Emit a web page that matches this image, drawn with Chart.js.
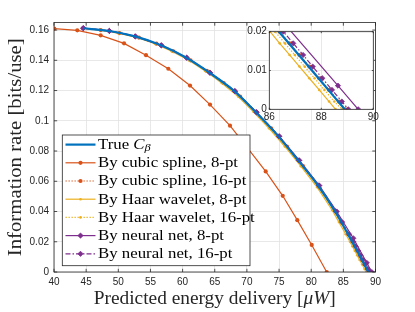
<!DOCTYPE html>
<html><head><meta charset="utf-8">
<script src="https://cdn.jsdelivr.net/npm/chart.js@4/dist/chart.umd.min.js"></script>
<style>
html,body{margin:0;padding:0;background:#fff;}
#wrap{position:relative;width:415px;height:312px;overflow:hidden;}
#main{position:absolute;left:0;top:0;}
#inset{position:absolute;left:235px;top:20px;}
</style></head><body>
<div id="wrap"><canvas id="main" width="415" height="312"></canvas><canvas id="inset" width="150" height="105"></canvas></div>
<script>
// ---------- tick labels ----------
const mainXTicks = [40, 45, 50, 55, 60, 65, 70, 75, 80, 85, 90];
const mainYTicks = [0, 0.02, 0.04, 0.06, 0.08, 0.1, 0.12, 0.14, 0.16];
const insetXTicks = [86, 88, 90];
const insetYTicks = [0, 0.01, 0.02];

// ---------- series names ----------
const seriesNames = ['True C_β', 'By cubic spline, 8-pt', 'By cubic spline, 16-pt',
  'By Haar wavelet, 8-pt', 'By Haar wavelet, 16-pt', 'By neural net, 8-pt', 'By neural net, 16-pt'];

// ---------- data ----------
const trueX = [44.5, 48.6, 52.62, 56.65, 60.58, 64.18, 68.05, 71.4, 74.9, 77.98, 81.06, 83.72, 86.37, 87.64, 88.9];
const trueY = [0.1612, 0.1594, 0.1558, 0.1499, 0.1417, 0.1318, 0.1196, 0.1056, 0.0897, 0.0738, 0.0572, 0.040, 0.020, 0.010, 0];

const spline8X = [40.05, 43.62, 47.26, 50.89, 54.31, 57.78, 61.15, 64.26, 67.37, 70.15, 72.92, 75.57, 77.84, 80.08, 82.41];
const spline8Y = [0.1609, 0.1598, 0.1565, 0.1512, 0.1434, 0.1344, 0.1233, 0.1107, 0.0968, 0.0818, 0.0665, 0.0504, 0.0343, 0.0179, 0];

const neural8X = [44.56, 48.6, 52.64, 56.69, 60.64, 64.26, 68.15, 71.52, 75.04, 78.15, 81.26, 83.97, 86.55, 88.64, 89.42];
const neural8Y = [0.1613, 0.1594, 0.1558, 0.1499, 0.1417, 0.1318, 0.1196, 0.1056, 0.0897, 0.0738, 0.0572, 0.040, 0.0223, 0.0061, 0];

const neural16X = [44.55, 48.62, 52.65, 56.69, 60.63, 64.24, 68.12, 71.48, 75.0, 78.08, 81.17, 83.85,
  84.81, 85.88, 86.54, 86.92, 87.3, 87.67, 88.04, 88.41, 88.79, 89.04];
const neural16Y = [0.1612, 0.1594, 0.1558, 0.1499, 0.1417, 0.1318, 0.1196, 0.1056, 0.0897, 0.0738, 0.0572, 0.040,
  0.033, 0.025, 0.020, 0.017, 0.014, 0.011, 0.008, 0.005, 0.002, 0];

// spline-16 / wavelet series sampled at these rates
const rateLevels = [0.1612, 0.1600, 0.1580, 0.1550, 0.1510, 0.1460, 0.1400, 0.1330, 0.1250, 0.1160, 0.1060, 0.0950, 0.0830,
  0.0700, 0.0560, 0.0410, 0.0330, 0.0250, 0.0200, 0.0170, 0.0140, 0.0110, 0.0080, 0.0050, 0.0020, 0];
const spline16X = [44.5, 47.25, 50.18, 53.2, 55.93, 58.55, 61.23, 63.77, 66.37, 68.94, 71.33, 73.76, 76.23,
  78.72, 81.28, 83.6, 84.68, 85.74, 86.4, 86.78, 87.16, 87.54, 87.92, 88.3, 88.68, 88.93];
const haar8X = [44.45, 47.1, 50.0, 52.98, 55.7, 58.3, 60.97, 63.5, 66.08, 68.64, 71.02, 73.44, 75.9,
  78.38, 80.93, 83.24, 84.31, 85.37, 86.03, 86.4, 86.78, 87.16, 87.54, 87.92, 88.3, 88.55];
const haar16X = [44.5, 47.15, 50.08, 53.07, 55.78, 58.4, 61.07, 63.6, 66.19, 68.76, 71.15, 73.58, 76.05,
  78.54, 81.1, 83.42, 84.5, 85.55, 86.22, 86.6, 86.98, 87.36, 87.74, 88.12, 88.5, 88.8];

// ---------- styles ----------
const C_BLUE = '#0072BD', C_ORANGE = '#D95319', C_YELLOW = '#EDB120', C_PURPLE = '#7E2F8E';
const styles = [
  {color: C_BLUE, width: 2.2, dash: [], point: false, radius: 0, smooth: true, order: 0},
  {color: C_ORANGE, width: 1.2, dash: [], point: 'circle', radius: 2.1, smooth: false, order: 6},
  {color: C_ORANGE, width: 1.2, dash: [1.3, 1.7], point: 'circle', radius: 2.1, smooth: true, order: 5},
  {color: C_YELLOW, width: 1.2, dash: [], point: 'circle', radius: 1.3, smooth: false, order: 4},
  {color: C_YELLOW, width: 1.2, dash: [1.3, 1.7], point: 'circle', radius: 1.3, smooth: true, order: 3},
  {color: C_PURPLE, width: 1.2, dash: [], point: 'rectRot', radius: 2.6, smooth: false, order: 2},
  {color: C_PURPLE, width: 1.2, dash: [5, 2, 1.5, 2], point: 'rectRot', radius: 2.6, smooth: true, order: 1}
];
const seriesXY = [
  [trueX, trueY], [spline8X, spline8Y], [spline16X, rateLevels], [haar8X, rateLevels],
  [haar16X, rateLevels], [neural8X, neural8Y], [neural16X, neural16Y]
];

function makeDatasets() {
  return seriesXY.map(([xs, ys], i) => {
    const s = styles[i];
    return {
      label: seriesNames[i],
      data: xs.map((x, k) => ({x: x, y: ys[k]})),
      showLine: true, fill: false,
      borderColor: s.color, backgroundColor: s.color,
      borderWidth: s.width, borderDash: s.dash,
      pointStyle: s.point || 'circle', pointRadius: s.radius, pointHoverRadius: s.radius,
      pointBorderWidth: s.point === 'rectRot' ? 0.8 : 0, pointBorderColor: s.color, pointBackgroundColor: s.color,
      cubicInterpolationMode: s.smooth ? 'monotone' : 'default', tension: 0,
      order: s.order
    };
  });
}

const FRAME = '#262626';
const SERIF = '"Liberation Serif", "Times New Roman", serif';
const SANS = '"Liberation Sans", Arial, sans-serif';

function drawParts(ctx, parts, x, y, sx) {
  ctx.save();
  ctx.translate(x, y);
  ctx.scale(sx, 1);
  let cx = 0;
  parts.forEach(p => {
    ctx.font = p.f;
    ctx.fillText(p.t, cx, p.dy || 0);
    cx += ctx.measureText(p.t).width;
  });
  ctx.restore();
}
function partsWidth(ctx, parts) {
  let w = 0;
  ctx.save();
  parts.forEach(p => { ctx.font = p.f; w += ctx.measureText(p.t).width; });
  ctx.restore();
  return w;
}

function framePlugin(tickLen) {
  return {
    id: 'frame',
    beforeDraw(chart, args, opts) {
      if (opts.white) {
        const a = chart.chartArea, ctx = chart.ctx;
        ctx.save(); ctx.fillStyle = '#fff';
        ctx.fillRect(a.left, a.top, a.right - a.left, a.bottom - a.top);
        ctx.restore();
      }
    },
    afterDraw(chart) {
      const {ctx, chartArea: a, scales: {x, y}} = chart;
      ctx.save();
      ctx.strokeStyle = FRAME; ctx.lineWidth = 0.8;
      ctx.strokeRect(a.left, a.top, a.right - a.left, a.bottom - a.top);
      ctx.beginPath();
      x.ticks.forEach(t => {
        const p = x.getPixelForValue(t.value);
        ctx.moveTo(p, a.bottom); ctx.lineTo(p, a.bottom - tickLen);
        ctx.moveTo(p, a.top); ctx.lineTo(p, a.top + tickLen);
      });
      y.ticks.forEach(t => {
        const p = y.getPixelForValue(t.value);
        ctx.moveTo(a.left, p); ctx.lineTo(a.left + tickLen, p);
        ctx.moveTo(a.right, p); ctx.lineTo(a.right - tickLen, p);
      });
      ctx.stroke();
      ctx.restore();
    }
  };
}

const titlePlugin = {
  id: 'titles',
  afterDraw(chart) {
    const ctx = chart.ctx, a = chart.chartArea;
    ctx.save();
    ctx.fillStyle = '#262626';
    ctx.textBaseline = 'middle';
    ctx.textAlign = 'left';
    const f = '19px ' + SERIF, fi = 'italic 19px ' + SERIF;
    const xt = [{t: 'Predicted energy delivery [', f: f}, {t: 'μW', f: fi}, {t: ']', f: f}];
    const xw = 242, xs = xw / partsWidth(ctx, xt);
    drawParts(ctx, xt, (a.left + a.right) / 2 - xw / 2, 299, xs);
    const yt = [{t: 'Information rate [bits/use]', f: f}];
    const yw = 218, ys = yw / partsWidth(ctx, yt);
    ctx.save();
    ctx.translate(16, (a.top + a.bottom) / 2);
    ctx.rotate(-Math.PI / 2);
    drawParts(ctx, yt, -yw / 2, 0, ys);
    ctx.restore();
    ctx.restore();
  }
};

const legendPlugin = {
  id: 'customLegend',
  afterDraw(chart) {
    const ctx = chart.ctx;
    const x0 = 62.3, y0 = 135, x1 = 250, y1 = 265.7;
    ctx.save();
    ctx.fillStyle = '#fff';
    ctx.fillRect(x0, y0, x1 - x0, y1 - y0);
    ctx.strokeStyle = FRAME; ctx.lineWidth = 0.8;
    ctx.strokeRect(x0, y0, x1 - x0, y1 - y0);
    const f = '15px ' + SERIF, fi = 'italic 15px ' + SERIF, fs = 'italic 11px ' + SERIF;
    chart.data.datasets.forEach((ds, i) => {
      const s = styles[i];
      const ry = 144.6 + i * 18.2;
      ctx.save();
      ctx.strokeStyle = s.color; ctx.lineWidth = s.width;
      ctx.setLineDash(s.dash);
      ctx.beginPath(); ctx.moveTo(65.5, ry); ctx.lineTo(95.5, ry); ctx.stroke();
      ctx.setLineDash([]);
      if (s.point) {
        ctx.fillStyle = s.color; ctx.strokeStyle = s.color; ctx.lineWidth = 0.8;
        Chart.helpers.drawPoint(ctx, {pointStyle: s.point, radius: s.radius, borderWidth: s.point === 'rectRot' ? 0.8 : 0, rotation: 0}, 80.5, ry);
      }
      ctx.restore();
      ctx.fillStyle = '#000';
      ctx.textBaseline = 'middle';
      let parts;
      if (i === 0) parts = [{t: 'True ', f: f}, {t: 'C', f: fi}, {t: 'β', f: fs, dy: 3.5}];
      else parts = [{t: ds.label, f: f}];
      drawParts(ctx, parts, 98, ry + 0.5, 1.12);
    });
    ctx.restore();
  }
};

function fmt(v) { return String(Math.round(v * 1000) / 1000); }

function axisCfg(min, max, ticksArr, sizeProp, size, pad) {
  return {
    type: 'linear', min: min, max: max,
    afterBuildTicks: s => { s.ticks = ticksArr.map(v => ({value: v})); },
    afterFit: s => { s[sizeProp] = size; },
    grid: {color: '#e2e2e2', lineWidth: 0.8, drawTicks: false},
    border: {display: false},
    ticks: {color: '#262626', font: {family: SANS, size: 10}, padding: pad, maxRotation: 0, autoSkip: false, callback: v => fmt(v)}
  };
}

new Chart(document.getElementById('main'), {
  type: 'scatter',
  data: {datasets: makeDatasets()},
  options: {
    responsive: false, animation: false, devicePixelRatio: 1,
    layout: {padding: {left: 0, top: 22.5, right: 39.5, bottom: 0}},
    plugins: {legend: {display: false}, tooltip: {enabled: false}, frame: {white: false}},
    scales: {
      x: axisCfg(40, 90, mainXTicks, 'height', 40, 4),
      y: axisCfg(0, 0.165, mainYTicks, 'width', 54, 5)
    }
  },
  plugins: [framePlugin(3.2), titlePlugin, legendPlugin]
});

new Chart(document.getElementById('inset'), {
  type: 'scatter',
  data: {datasets: makeDatasets()},
  options: {
    responsive: false, animation: false, devicePixelRatio: 1,
    layout: {padding: {left: 0, top: 11.7, right: 11.7, bottom: 0}},
    plugins: {legend: {display: false}, tooltip: {enabled: false}, frame: {white: true}},
    scales: {
      x: axisCfg(86, 90, insetXTicks, 'height', 15.7, 2),
      y: axisCfg(0, 0.02, insetYTicks, 'width', 34.3, 2.5)
    }
  },
  plugins: [framePlugin(1.5)]
});
</script>
</body></html>
